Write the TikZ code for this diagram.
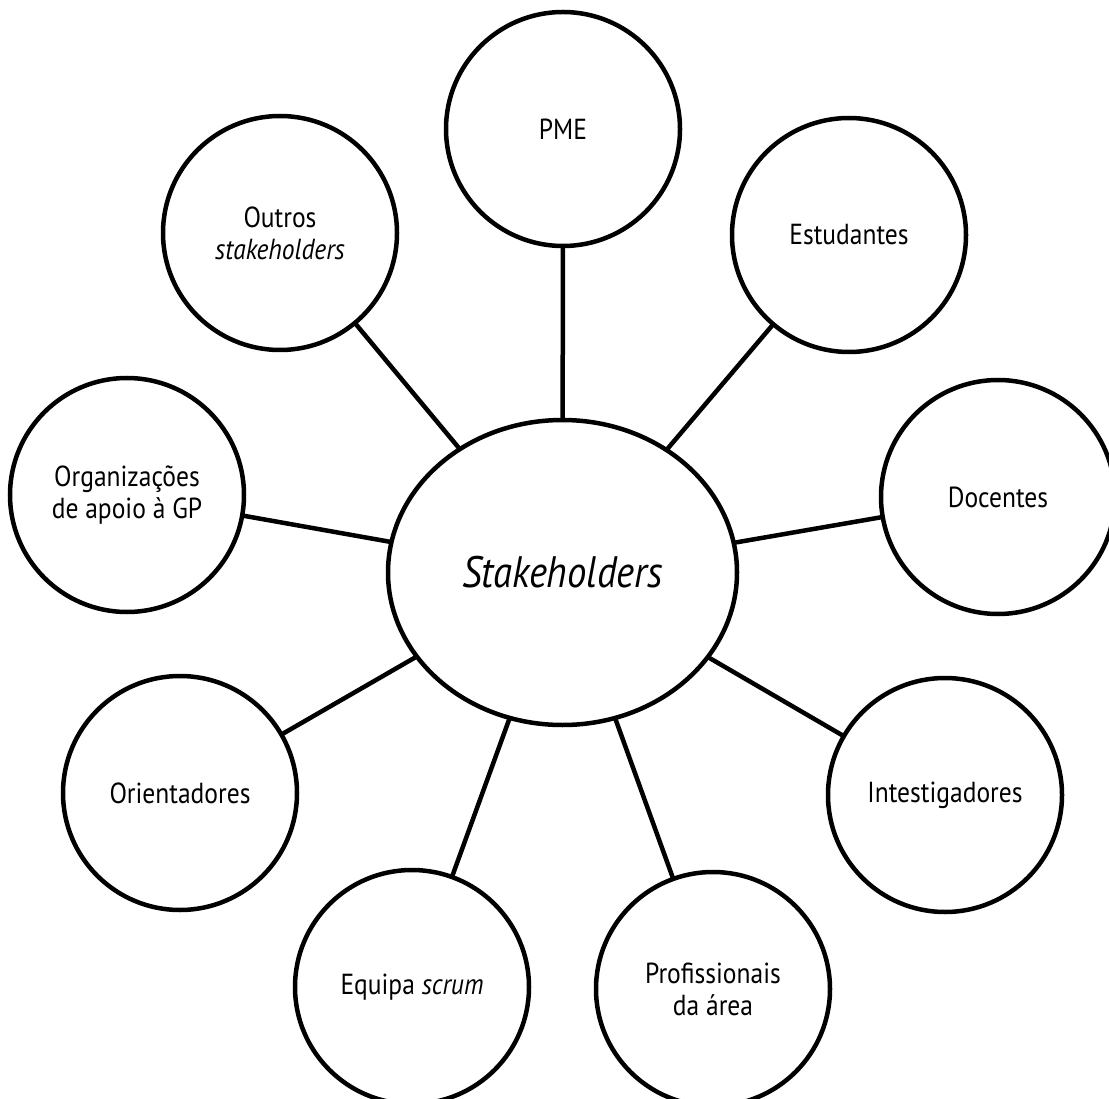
\documentclass[tikz,border=0pt]{standalone}
\usepackage{fontspec}
\setmainfont{PT Sans}[FakeStretch=0.88]
\usetikzlibrary{shapes.geometric}

\tikzset{
  hub/.style={ellipse, draw, line width=4.5pt, minimum width=349pt, minimum height=305pt,
    inner sep=0pt, outer sep=0pt, font=\fontsize{44}{50}\selectfont\itshape},
  party/.style={circle, draw, line width=4.5pt, minimum size=234pt, inner sep=0pt,
    outer sep=0pt, align=center, font=\fontsize{29}{32}\selectfont},
  link/.style={line width=4.5pt}
}

\begin{document}
\begin{tikzpicture}[x=1pt, y=-1pt]
  \useasboundingbox (0,0) rectangle (1109,1099);
  \clip (0,0) rectangle (1109,1099);

  % central node
  \node[hub] (hub) at (562.5,572.5) {Stakeholders};

  % surrounding stakeholder groups
  \node[party] (pme)  at (563,129)  {PME};
  \node[party] (est)  at (849,235)  {Estudantes};
  \node[party] (doc)  at (998,497)  {Docentes};
  \node[party] (inv)  at (945,795)  {Intestigadores};
  \node[party] (prof) at (713,989)  {Profissionais\\da área};
  \node[party] (eq)   at (412,987)  {Equipa \textit{scrum}};
  \node[party] (ori)  at (180,793)  {Orientadores};
  \node[party] (org)  at (127,495)  {Organizações\\de apoio à GP};
  \node[party] (out)  at (280,233)  {Outros\\\textit{stakeholders}};

  % spokes
  \foreach \n in {pme,est,doc,inv,prof,eq,ori,org,out}
    \draw[link] (hub) -- (\n);
\end{tikzpicture}
\end{document}
